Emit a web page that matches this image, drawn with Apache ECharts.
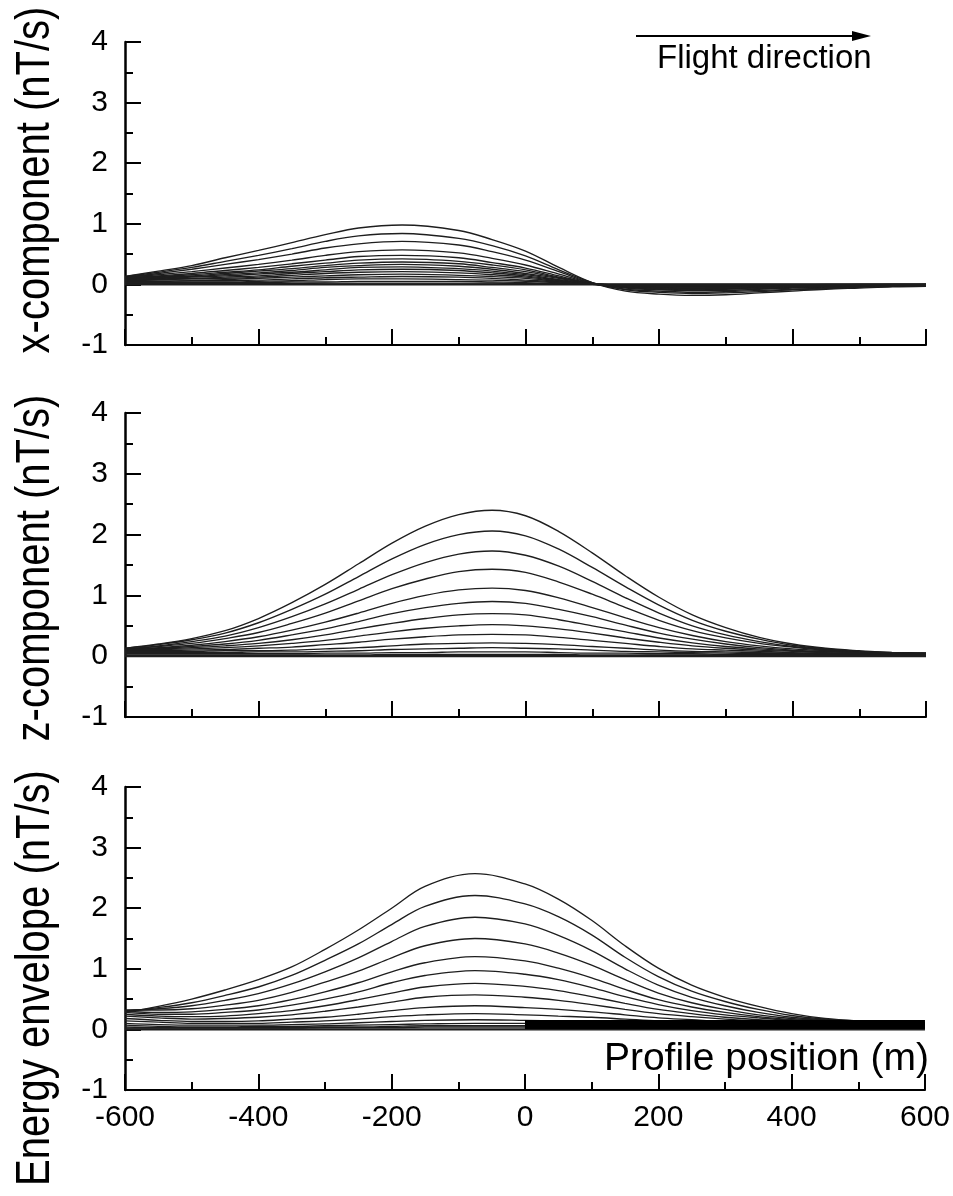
<!DOCTYPE html>
<html><head><meta charset="utf-8">
<script src="https://cdn.jsdelivr.net/npm/echarts@6/dist/echarts.min.js"></script>
<style>html,body{margin:0;padding:0;background:#fff}#c{width:953px;height:1196px}</style>
</head><body><div id="c"></div>
<script>
// Profile positions (m) sampled for each panel
const xPositions = [-600,-550,-500,-450,-400,-350,-300,-250,-185,-100,-50,0,50,100,150,200,250,300,350,400,450,500,550,600];
const zPositions = [-600,-550,-500,-450,-400,-350,-300,-250,-200,-150,-100,-50,0,50,100,150,200,250,300,350,400,450,500,550,600];
const energyPositions = [-600,-550,-500,-450,-400,-350,-300,-250,-200,-150,-75,0,50,100,150,200,250,300,350,400,450,500,550,600];
const xTicks = [-600,-400,-200,0,200,400,600];
const yTicks = [-1,0,1,2,3,4];

// x-component (nT/s), one row per time channel
const xComponent = [
 [0.13,0.22,0.31,0.44,0.56,0.69,0.82,0.93,0.98,0.89,0.74,0.55,0.28,0.03,-0.11,-0.16,-0.18,-0.17,-0.14,-0.11,-0.08,-0.06,-0.04,-0.03],
 [0.13,0.20,0.28,0.38,0.48,0.59,0.71,0.80,0.84,0.76,0.64,0.47,0.24,0.03,-0.09,-0.13,-0.15,-0.14,-0.12,-0.09,-0.07,-0.05,-0.03,-0.03],
 [0.12,0.18,0.25,0.33,0.41,0.50,0.60,0.67,0.71,0.65,0.54,0.40,0.21,0.02,-0.08,-0.11,-0.13,-0.12,-0.10,-0.08,-0.06,-0.04,-0.03,-0.02],
 [0.12,0.16,0.21,0.27,0.33,0.40,0.48,0.54,0.57,0.52,0.43,0.32,0.17,0.02,-0.06,-0.09,-0.10,-0.10,-0.08,-0.06,-0.05,-0.03,-0.02,-0.02],
 [0.11,0.14,0.18,0.23,0.28,0.34,0.40,0.46,0.48,0.44,0.36,0.27,0.14,0.01,-0.05,-0.08,-0.09,-0.08,-0.07,-0.05,-0.04,-0.03,-0.02,-0.01],
 [0.11,0.13,0.16,0.20,0.24,0.30,0.35,0.40,0.42,0.38,0.32,0.24,0.12,0.01,-0.05,-0.07,-0.08,-0.07,-0.06,-0.05,-0.03,-0.03,-0.02,-0.01],
 [0.10,0.12,0.14,0.18,0.22,0.26,0.31,0.35,0.37,0.34,0.28,0.21,0.11,0.01,-0.04,-0.06,-0.07,-0.06,-0.05,-0.04,-0.03,-0.02,-0.01,-0.01],
 [0.10,0.11,0.13,0.16,0.19,0.23,0.28,0.31,0.33,0.30,0.25,0.18,0.10,0.01,-0.04,-0.05,-0.06,-0.06,-0.05,-0.04,-0.03,-0.02,-0.01,-0.01],
 [0.09,0.10,0.12,0.14,0.17,0.20,0.24,0.28,0.29,0.26,0.22,0.16,0.08,0.01,-0.03,-0.05,-0.05,-0.05,-0.04,-0.03,-0.02,-0.02,-0.01,-0.01],
 [0.08,0.09,0.10,0.12,0.14,0.18,0.21,0.24,0.25,0.23,0.19,0.14,0.07,0.01,-0.03,-0.04,-0.05,-0.04,-0.04,-0.03,-0.02,-0.02,-0.01,-0.01],
 [0.07,0.08,0.09,0.10,0.12,0.15,0.18,0.20,0.21,0.19,0.16,0.12,0.06,0.01,-0.02,-0.03,-0.04,-0.04,-0.03,-0.02,-0.02,-0.01,-0.01,-0.01],
 [0.06,0.07,0.07,0.08,0.10,0.12,0.14,0.16,0.17,0.15,0.13,0.10,0.05,0.01,-0.02,-0.03,-0.03,-0.03,-0.02,-0.02,-0.01,-0.01,-0.01,0.00],
 [0.05,0.05,0.06,0.06,0.07,0.09,0.11,0.12,0.13,0.12,0.10,0.07,0.04,0.00,-0.01,-0.02,-0.02,-0.02,-0.02,-0.01,-0.01,-0.01,0.00,0.00],
 [0.04,0.04,0.04,0.04,0.05,0.06,0.08,0.09,0.09,0.08,0.07,0.05,0.03,0.00,-0.01,-0.01,-0.02,-0.02,-0.01,-0.01,-0.01,0.00,0.00,0.00],
 [0.03,0.03,0.03,0.03,0.03,0.04,0.04,0.05,0.05,0.05,0.04,0.03,0.01,0.00,-0.01,-0.01,-0.01,-0.01,-0.01,-0.01,0.00,0.00,0.00,0.00],
 [0.01,0.01,0.01,0.01,0.01,0.01,0.02,0.02,0.02,0.02,0.02,0.01,0.01,0.00,0.00,0.00,0.00,0.00,0.00,0.00,0.00,0.00,0.00,0.00],
 [0,0,0,0,0,0,0,0,0,0,0,0,0,0,0,0,0,0,0,0,0,0,0,0]
];

// z-component (nT/s)
const zComponent = [
 [0.13,0.20,0.29,0.42,0.62,0.88,1.18,1.52,1.86,2.14,2.33,2.40,2.31,2.05,1.70,1.32,0.97,0.68,0.47,0.31,0.20,0.13,0.09,0.06,0.05],
 [0.13,0.19,0.27,0.38,0.55,0.77,1.02,1.31,1.60,1.84,2.00,2.06,1.98,1.76,1.46,1.14,0.84,0.59,0.41,0.28,0.18,0.12,0.08,0.06,0.05],
 [0.12,0.17,0.24,0.33,0.47,0.65,0.86,1.10,1.34,1.54,1.68,1.73,1.66,1.48,1.23,0.96,0.71,0.50,0.35,0.24,0.16,0.11,0.08,0.06,0.05],
 [0.12,0.16,0.21,0.29,0.39,0.54,0.71,0.91,1.11,1.27,1.39,1.43,1.38,1.22,1.02,0.80,0.59,0.42,0.30,0.21,0.15,0.10,0.07,0.06,0.05],
 [0.11,0.14,0.18,0.24,0.32,0.43,0.56,0.71,0.87,1.00,1.09,1.12,1.08,0.96,0.80,0.63,0.47,0.34,0.24,0.17,0.12,0.09,0.07,0.05,0.04],
 [0.11,0.13,0.16,0.20,0.26,0.35,0.45,0.57,0.70,0.80,0.87,0.90,0.87,0.77,0.65,0.51,0.38,0.28,0.20,0.14,0.10,0.08,0.06,0.05,0.04],
 [0.10,0.12,0.14,0.17,0.21,0.27,0.35,0.45,0.54,0.62,0.68,0.70,0.68,0.60,0.50,0.40,0.30,0.22,0.16,0.12,0.09,0.07,0.06,0.05,0.04],
 [0.10,0.11,0.12,0.14,0.17,0.21,0.26,0.33,0.40,0.46,0.50,0.52,0.50,0.45,0.38,0.30,0.23,0.17,0.13,0.10,0.08,0.06,0.05,0.04,0.04],
 [0.09,0.09,0.10,0.11,0.13,0.15,0.19,0.23,0.28,0.32,0.35,0.36,0.35,0.31,0.26,0.21,0.16,0.12,0.10,0.08,0.06,0.05,0.04,0.04,0.03],
 [0.08,0.08,0.08,0.09,0.09,0.10,0.12,0.14,0.17,0.20,0.21,0.22,0.21,0.19,0.16,0.13,0.10,0.08,0.07,0.06,0.05,0.04,0.04,0.03,0.03],
 [0.06,0.06,0.06,0.06,0.07,0.07,0.08,0.09,0.11,0.12,0.13,0.14,0.13,0.12,0.10,0.08,0.07,0.06,0.05,0.04,0.04,0.03,0.03,0.03,0.02],
 [0.04,0.04,0.04,0.04,0.04,0.04,0.05,0.05,0.06,0.06,0.07,0.07,0.07,0.06,0.05,0.05,0.04,0.04,0.03,0.03,0.03,0.02,0.02,0.02,0.02],
 [0.02,0.02,0.02,0.02,0.02,0.02,0.02,0.02,0.03,0.03,0.03,0.03,0.03,0.03,0.02,0.02,0.02,0.02,0.02,0.02,0.01,0.01,0.01,0.01,0.01],
 [0,0,0,0,0,0,0,0,0,0,0,0,0,0,0,0,0,0,0,0,0,0,0,0,0]
];

// Energy envelope (nT/s)
const energyEnvelope = [
 [0.28,0.38,0.50,0.65,0.82,1.03,1.32,1.64,2.00,2.36,2.57,2.40,2.15,1.80,1.38,1.01,0.73,0.53,0.38,0.26,0.18,0.14,0.12,0.11],
 [0.30,0.36,0.44,0.56,0.70,0.89,1.14,1.41,1.73,2.03,2.21,2.07,1.86,1.56,1.19,0.87,0.63,0.46,0.33,0.23,0.17,0.14,0.12,0.11],
 [0.31,0.34,0.39,0.48,0.59,0.75,0.95,1.18,1.45,1.70,1.85,1.74,1.55,1.30,1.00,0.73,0.53,0.39,0.28,0.20,0.16,0.13,0.12,0.11],
 [0.32,0.32,0.34,0.40,0.48,0.61,0.78,0.96,1.18,1.38,1.50,1.41,1.26,1.06,0.82,0.60,0.44,0.33,0.24,0.18,0.15,0.13,0.12,0.11],
 [0.30,0.28,0.29,0.33,0.39,0.49,0.62,0.77,0.95,1.10,1.20,1.13,1.01,0.85,0.66,0.49,0.37,0.28,0.21,0.16,0.14,0.13,0.12,0.11],
 [0.28,0.25,0.25,0.28,0.32,0.40,0.50,0.62,0.77,0.89,0.97,0.91,0.82,0.69,0.54,0.41,0.31,0.24,0.19,0.15,0.13,0.12,0.11,0.11],
 [0.25,0.22,0.21,0.22,0.26,0.31,0.39,0.49,0.60,0.70,0.76,0.71,0.64,0.54,0.43,0.33,0.26,0.20,0.16,0.14,0.12,0.12,0.11,0.10],
 [0.22,0.19,0.17,0.18,0.20,0.24,0.30,0.37,0.45,0.53,0.57,0.53,0.48,0.41,0.33,0.26,0.21,0.17,0.14,0.12,0.11,0.11,0.10,0.10],
 [0.18,0.15,0.13,0.13,0.14,0.17,0.20,0.25,0.31,0.36,0.39,0.36,0.33,0.29,0.24,0.19,0.16,0.13,0.12,0.11,0.10,0.10,0.10,0.10],
 [0.14,0.12,0.10,0.10,0.10,0.12,0.14,0.17,0.21,0.24,0.26,0.24,0.22,0.20,0.17,0.14,0.12,0.11,0.10,0.10,0.09,0.09,0.09,0.09],
 [0.10,0.08,0.07,0.07,0.07,0.08,0.09,0.11,0.13,0.15,0.16,0.15,0.14,0.13,0.11,0.10,0.09,0.08,0.08,0.08,0.08,0.08,0.08,0.08],
 [0.07,0.05,0.04,0.04,0.05,0.05,0.06,0.07,0.08,0.09,0.10,0.10,0.09,0.08,0.07,0.07,0.06,0.06,0.06,0.06,0.06,0.06,0.06,0.06],
 [0.04,0.03,0.03,0.03,0.03,0.03,0.04,0.04,0.05,0.06,0.06,0.06,0.05,0.05,0.05,0.04,0.04,0.04,0.04,0.04,0.04,0.04,0.04,0.04],
 [0.02,0.02,0.02,0.02,0.02,0.02,0.03,0.03,0.03,0.04,0.04,0.04,0.04,0.03,0.03,0.03,0.03,0.03,0.03,0.03,0.03,0.03,0.03,0.03],
 [0,0,0,0,0,0,0,0,0,0,0,0,0,0,0,0,0,0,0,0,0,0,0,0]
];

// dense overlapping late channels (solid band) on the energy panel
const bandPositions = [0, 600];
const bandValues = [0.08, 0.08];

const panelNames = ['x-component (nT/s)', 'z-component (nT/s)', 'Energy envelope (nT/s)'];
const panels = [xComponent, zComponent, energyEnvelope];
const panelPositions = [xPositions, zPositions, energyPositions];

const FONT = '"Liberation Sans", Arial, Helvetica, sans-serif';
const chart = echarts.init(document.getElementById('c'), null, {renderer: 'canvas'});

const grids = [
  {left: 125, top: 42, width: 801, height: 303},
  {left: 125, top: 413, width: 801, height: 304},
  {left: 125, top: 787, width: 801, height: 303}
];

const xAxes = grids.map((g, i) => ({
  type: 'value', gridIndex: i,
  min: xTicks[0], max: xTicks[xTicks.length - 1], interval: xTicks[1] - xTicks[0],
  axisLine: {show: true, onZero: false, lineStyle: {color: '#000', width: 2}},
  axisTick: {show: true, inside: true, length: 16, lineStyle: {color: '#000', width: 2}},
  minorTick: {show: true, splitNumber: 2, length: 8, lineStyle: {color: '#000', width: 2}},
  splitLine: {show: false},
  axisLabel: {show: i === 2, color: '#000', fontSize: 30, fontFamily: FONT, margin: 13}
}));

const yAxes = grids.map((g, i) => ({
  type: 'value', gridIndex: i,
  min: yTicks[0], max: yTicks[yTicks.length - 1], interval: yTicks[1] - yTicks[0],
  axisLine: {show: true, onZero: false, lineStyle: {color: '#000', width: 2.5}},
  axisTick: {show: true, inside: true, length: 16, lineStyle: {color: '#000', width: 2}},
  minorTick: {show: true, splitNumber: 2, length: 8, lineStyle: {color: '#000', width: 2}},
  splitLine: {show: false},
  axisLabel: {color: '#000', fontSize: 30, fontFamily: FONT, margin: 17}
}));

const series = [];
panels.forEach((curves, p) => {
  const pos = panelPositions[p];
  curves.forEach((vals, k) => {
    series.push({
      type: 'line', xAxisIndex: p, yAxisIndex: p,
      data: pos.map((x, j) => [x, vals[j]]),
      showSymbol: false, smooth: 0.35, silent: true,
      lineStyle: {color: '#1e1e1e', width: k === curves.length - 1 ? 2.2 : 1.35},
      z: 2
    });
  });
});
series.push({
  type: 'line', xAxisIndex: 2, yAxisIndex: 2,
  data: bandPositions.map((x, j) => [x, bandValues[j]]),
  showSymbol: false, silent: true,
  lineStyle: {color: '#000', width: 9, cap: 'butt'}, z: 3
});

const nameCenters = [[36, 180], [36, 568], [36, 978]];
const graphics = panelNames.map((t, i) => ({
  type: 'text', x: nameCenters[i][0], y: nameCenters[i][1], rotation: Math.PI / 2, scaleY: 1.2,
  style: {text: t, font: '40px ' + FONT, fill: '#000', textAlign: 'center', textVerticalAlign: 'middle'}
}));
graphics.push(
  {type: 'line', shape: {x1: 636, y1: 36, x2: 856, y2: 36}, style: {stroke: '#000', lineWidth: 2}},
  {type: 'polygon', shape: {points: [[852, 31], [871, 36], [852, 41]]}, style: {fill: '#000'}},
  {type: 'text', x: 657, y: 59, style: {text: 'Flight direction', font: '33px ' + FONT, fill: '#000', textAlign: 'left', textVerticalAlign: 'middle'}},
  {type: 'text', x: 929, y: 1059, style: {text: 'Profile position (m)', font: '39px ' + FONT, fill: '#000', textAlign: 'right', textVerticalAlign: 'middle'}}
);

chart.setOption({
  animation: false,
  backgroundColor: '#fff',
  grid: grids,
  xAxis: xAxes,
  yAxis: yAxes,
  series: series,
  graphic: graphics
});
</script></body></html>
